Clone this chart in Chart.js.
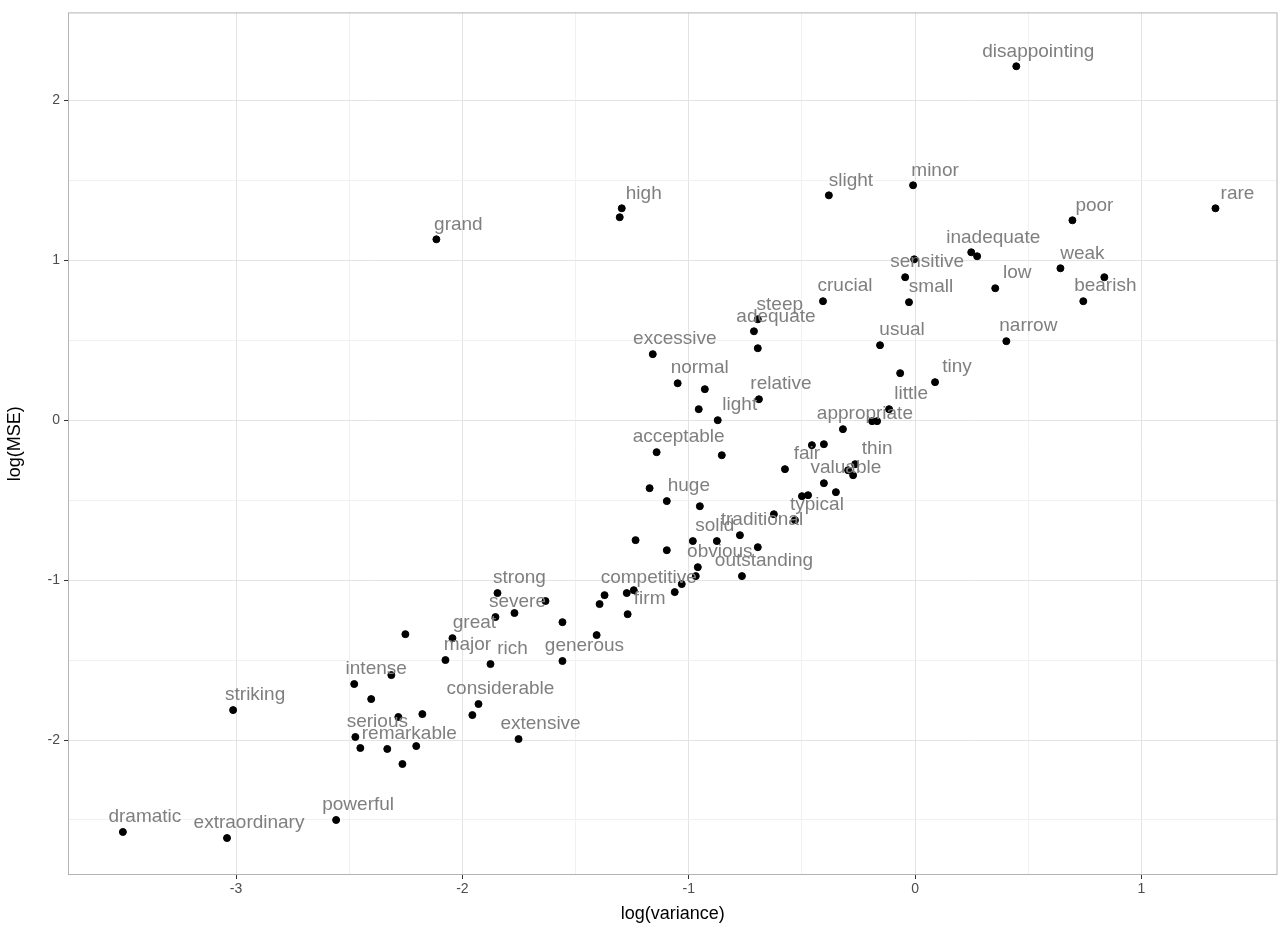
<!DOCTYPE html>
<html>
<head>
<meta charset="utf-8">
<script src="https://cdn.jsdelivr.net/npm/chart.js@4/dist/chart.umd.min.js"></script>
<style>
body { margin: 0; background: #fff; }
#wrap { width: 1282px; height: 929px; }
</style>
</head>
<body>
<div id="wrap"><canvas id="myChart"></canvas></div>
<script>
// log(variance), log(MSE) and word per point ('' = no label)
var logVar = [0.447, 1.327, 0.695, -0.009, -0.381, -1.296, -1.305, -2.115, 0.248, 0.274,
  -0.004, -0.044, -0.027, 0.354, 0.642, 0.836, 0.743, -0.155, 0.403, -0.407,
  -0.695, -0.712, -0.695, -1.159, -1.049, -0.929, -0.956, -0.872, -0.690, -0.066,
  0.088, -0.115, -0.190, -0.168, -0.319, -0.456, -0.403, -1.142, -0.854, -0.575,
  -0.265, -0.296, -0.274, -0.403, -0.350, -0.500, -0.473, -1.173, -1.097, -0.951,
  -0.624, -0.531, -1.235, -1.097, -0.982, -0.876, -0.774, -0.695, -0.960, -0.969,
  -0.765, -1.031, -1.062, -1.243, -1.274, -1.372, -1.394, -1.270, -1.845, -1.633,
  -1.854, -1.770, -1.558, -2.252, -2.044, -2.075, -1.876, -1.558, -1.407, -2.314,
  -2.478, -2.403, -2.283, -2.177, -1.929, -1.956, -1.752, -2.473, -2.451, -2.332,
  -2.204, -2.265, -3.013, -3.500, -3.040, -2.558];
var logMse = [2.213, 1.325, 1.250, 1.469, 1.406, 1.325, 1.269, 1.131, 1.050, 1.025,
  1.006, 0.894, 0.738, 0.825, 0.950, 0.894, 0.744, 0.469, 0.494, 0.744,
  0.631, 0.556, 0.450, 0.413, 0.231, 0.194, 0.069, 0.000, 0.131, 0.294,
  0.238, 0.069, -0.006, -0.006, -0.056, -0.156, -0.150, -0.200, -0.219, -0.306,
  -0.275, -0.313, -0.344, -0.394, -0.450, -0.475, -0.469, -0.425, -0.506, -0.538,
  -0.588, -0.625, -0.750, -0.813, -0.756, -0.756, -0.719, -0.794, -0.919, -0.975,
  -0.975, -1.025, -1.075, -1.063, -1.081, -1.094, -1.150, -1.213, -1.081, -1.131,
  -1.231, -1.206, -1.263, -1.338, -1.363, -1.500, -1.525, -1.506, -1.344, -1.594,
  -1.650, -1.744, -1.856, -1.838, -1.775, -1.844, -1.994, -1.981, -2.050, -2.056,
  -2.038, -2.150, -1.813, -2.575, -2.613, -2.500];
var words = ['disappointing', 'rare', 'poor', 'minor', 'slight', 'high', '', 'grand', 'inadequate', '',
  '', 'sensitive', 'small', 'low', 'weak', '', 'bearish', 'usual', 'narrow', 'crucial',
  'steep', 'adequate', '', 'excessive', 'normal', '', '', 'light', 'relative', '',
  'tiny', 'little', '', '', 'appropriate', '', '', 'acceptable', '', 'fair',
  'thin', '', '', 'valuable', '', '', '', '', 'huge', '',
  '', 'typical', '', '', 'solid', '', 'traditional', '', 'obvious', '',
  'outstanding', '', '', '', 'competitive', '', '', 'firm', 'strong', '',
  'severe', '', '', '', 'great', 'major', 'rich', 'generous', '', '',
  'intense', '', '', '', 'considerable', '', 'extensive', 'serious', '', 'remarkable',
  '', '', 'striking', 'dramatic', 'extraordinary', 'powerful'];

var points = [];
for (var i = 0; i < logVar.length; i++) {
    points.push({ x: logVar[i], y: logMse[i] });
}

function halfSteps(axis) {
    axis.ticks = axis.ticks.filter(function (t) {
        return Math.abs(t.value * 2 - Math.round(t.value * 2)) < 1e-6;
    });
}
function gridCol(c) {
    var v = c.tick ? c.tick.value : 0;
    return Math.abs(v - Math.round(v)) < 1e-6 ? '#e3e3e3' : '#f1f1f1';
}
function intLabel(v) {
    return Math.abs(v - Math.round(v)) < 1e-6 ? String(Math.round(v)) : '';
}
function tickCol(c) {
    return intLabel(c.tick.value) ? '#333' : 'rgba(0,0,0,0)';
}

var labelPlugin = {
    id: 'wordLabels',
    afterDatasetsDraw: function (chart) {
        var ctx = chart.ctx;
        var meta = chart.getDatasetMeta(0);
        ctx.save();
        ctx.font = '19px "Liberation Sans", Arial, sans-serif';
        ctx.fillStyle = '#7f7f7f';
        ctx.textAlign = 'center';
        ctx.textBaseline = 'middle';
        meta.data.forEach(function (el, i) {
            if (words[i]) ctx.fillText(words[i], el.x + 22, el.y - 15);
        });
        var a = chart.chartArea;
        ctx.strokeStyle = '#b3b3b3';
        ctx.lineWidth = 1;
        ctx.strokeRect(a.left + 0.5, a.top + 0.5, a.right - a.left - 1, a.bottom - a.top - 1);
        ctx.restore();
    }
};

new Chart(document.getElementById('myChart'), {
    type: 'scatter',
    data: {
        datasets: [{
            data: points,
            backgroundColor: '#000',
            borderColor: '#000',
            pointRadius: 3.5,
            pointHoverRadius: 3.5
        }]
    },
    options: {
        responsive: true,
        maintainAspectRatio: false,
        animation: false,
        layout: { padding: { top: 12, right: 0, left: 0, bottom: 0 } },
        plugins: { legend: { display: false }, tooltip: { enabled: false } },
        scales: {
            x: {
                min: -3.7425, max: 1.601,
                afterBuildTicks: halfSteps,
                afterFit: function (a) { a.height = 54; },
                grid: { color: gridCol, tickLength: 4, tickColor: tickCol },
                border: { display: false },
                ticks: { stepSize: 0.5, autoSkip: false, maxRotation: 0, color: '#4d4d4d', font: { size: 14, family: 'Liberation Sans' }, padding: 2, callback: intLabel },
                title: { display: true, text: 'log(variance)', color: '#000', font: { size: 18, family: 'Liberation Sans' }, padding: { top: 0 } }
            },
            y: {
                min: -2.844, max: 2.55,
                afterBuildTicks: halfSteps,
                afterFit: function (a) { a.width = 68; },
                grid: { color: gridCol, tickLength: 4, tickColor: tickCol },
                border: { display: false },
                ticks: { stepSize: 0.5, autoSkip: false, color: '#4d4d4d', font: { size: 14, family: 'Liberation Sans' }, padding: 4, callback: intLabel },
                title: { display: true, text: 'log(MSE)', color: '#000', font: { size: 18, family: 'Liberation Sans' }, padding: { bottom: 4 } }
            }
        }
    },
    plugins: [labelPlugin]
});
</script>
</body>
</html>
